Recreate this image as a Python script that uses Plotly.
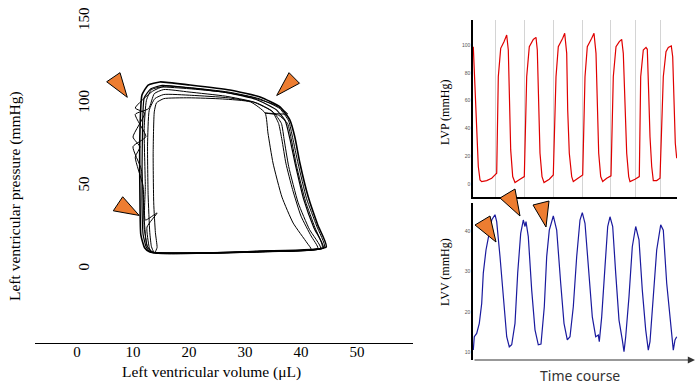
import plotly.graph_objects as go

# ---------------- Data: PV loops (volume in uL, pressure in mmHg) ----------------
loop_volumes = [
    [13.0, 22.0, 32.7, 44.5, 43.0, 41.3, 39.8, 38.9, 38.0, 36.3, 32.7, 27.3, 20.2, 14.8, 12.7, 11.6, 11.25, 11.25, 11.4, 12.1, 13.0],
    [13.3, 22.0, 33.0, 44.0, 42.3, 40.5, 39.0, 38.0, 37.2, 35.5, 32.0, 27.0, 20.0, 15.2, 13.2, 12.0, 11.7, 11.6, 11.8, 12.4, 13.3],
    [13.6, 23.0, 33.5, 43.5, 41.5, 39.5, 37.8, 37.0, 36.5, 35.0, 31.5, 26.5, 20.0, 15.5, 13.8, 12.8, 10.4, 12.3, 10.0, 11.5, 12.0, 12.5, 13.6],
    [14.0, 24.0, 34.0, 41.8, 41.1, 38.6, 36.6, 35.0, 34.1, 33.6, 31.0, 26.0, 20.0, 15.5, 14.2, 13.8, 13.6, 13.7, 14.0, 14.3, 14.0],
    [13.8, 23.5, 33.8, 43.0, 41.8, 40.0, 38.5, 37.3, 36.6, 36.0, 34.8, 32.0, 27.0, 20.5, 15.5, 13.9, 12.9, 12.6, 12.7, 13.0, 13.3, 13.8],
    [13.2, 22.5, 33.2, 43.8, 42.5, 40.8, 39.2, 38.3, 37.6, 36.0, 33.6, 37.6, 35.5, 31.0, 26.0, 20.0, 15.0, 13.3, 12.4, 12.0, 12.2, 12.2, 14.3, 12.5, 12.9, 13.2],
    [13.5, 23.0, 33.5, 44.2, 42.8, 41.0, 39.5, 38.5, 37.8, 36.2, 32.5, 27.0, 20.5, 15.6, 13.5, 10.4, 12.1, 10.0, 11.25, 10.4, 11.8, 12.0, 12.6, 13.5],
]
loop_pressures = [
    [10.3, 9.7, 10.9, 13.3, 26.6, 43.5, 64.1, 79.8, 90.1, 97.9, 104.0, 108.2, 111.2, 113.1, 111.2, 105.2, 84.0, 41.7, 20.6, 12.7, 10.3],
    [10.0, 9.6, 10.5, 12.8, 25.0, 42.0, 63.0, 79.0, 89.5, 96.5, 102.5, 106.5, 109.5, 111.0, 109.0, 103.5, 85.0, 42.0, 21.0, 13.0, 10.0],
    [10.2, 9.8, 10.6, 12.5, 24.0, 40.0, 62.0, 78.0, 88.0, 95.0, 101.0, 104.5, 107.0, 108.5, 106.0, 97.0, 93.5, 80.0, 74.0, 60.0, 30.0, 14.0, 10.2],
    [9.8, 9.6, 10.4, 12.0, 15.7, 27.8, 43.5, 64.1, 82.2, 94.3, 101.0, 102.8, 103.5, 103.0, 100.5, 95.0, 70.0, 40.0, 22.0, 13.0, 9.8],
    [10.1, 9.7, 10.6, 12.6, 20.0, 32.0, 48.0, 64.0, 78.0, 88.0, 95.5, 100.5, 103.5, 105.0, 105.5, 103.0, 96.0, 75.0, 45.0, 22.0, 13.5, 10.1],
    [10.4, 9.9, 10.8, 13.0, 25.0, 41.0, 62.5, 78.0, 88.0, 93.0, 94.3, 93.8, 99.0, 104.0, 107.0, 109.0, 110.0, 108.5, 102.0, 85.0, 50.0, 29.6, 33.9, 25.4, 13.0, 10.4],
    [10.0, 9.6, 10.7, 13.0, 26.0, 42.5, 63.5, 79.5, 89.5, 97.0, 103.0, 107.0, 109.5, 110.5, 107.5, 97.3, 94.3, 79.8, 73.8, 67.7, 50.0, 25.0, 13.5, 10.0],
]
loop_widths = [1.6, 1.2, 1.0, 1.0, 1.0, 1.0, 1.0]

pv_x_ticks = [0, 10, 20, 30, 40, 50]
pv_y_ticks = [0, 50, 100, 150]

# ---------------- Data: LVP time course ----------------
lvp_t = [0.3, 2.0, 3.7, 5.3, 7.0, 8.7, 13.7, 18.7, 22.0, 23.7, 25.3, 27.7, 31.0, 33.7, 35.3, 36.3, 37.7, 39.7, 42.0,
         47.0, 51.3, 53.7, 56.3, 60.3, 63.0, 64.3, 65.7, 67.0, 69.0, 71.0, 76.3, 80.3, 83.0, 85.3, 89.7, 91.7,
         93.7, 94.7, 96.3, 98.7, 100.3, 105.3, 109.7, 112.0, 114.3, 118.7, 121.0, 123.0, 124.3, 125.7, 127.7,
         129.7, 133.7, 138.0, 140.3, 143.0, 146.3, 148.7, 150.3, 152.0, 153.7, 155.7, 157.0, 162.0, 166.3,
         167.7, 170.3, 173.0, 174.3, 175.7, 177.0, 178.7, 180.3, 183.7, 187.0, 190.3, 193.0, 195.3, 198.3,
         199.7, 201.0, 202.3, 203.7]
lvp_mmHg = [98.8, 65.2, 29.3, 12.5, 2.9, 1.7, 2.4, 4.1, 6.5, 7.7, 77.2, 97.6, 102.4, 107.2, 96.4, 53.2, 24.5, 5.3, 1.0,
            3.4, 5.3, 77.2, 98.8, 104.0, 105.5, 96.4, 53.2, 22.1, 5.3, 1.0, 3.4, 6.5, 77.2, 98.8, 104.8, 108.4,
            94.0, 53.2, 22.1, 5.3, 1.7, 4.1, 6.5, 77.2, 98.8, 104.8, 108.4, 94.0, 53.2, 22.1, 5.3,
            1.7, 4.1, 5.8, 77.2, 98.8, 102.4, 104.1, 94.0, 53.2, 22.1, 5.3, 1.7, 3.4, 5.3,
            77.2, 96.4, 98.3, 96.9, 65.2, 34.0, 12.5, 2.4, 2.4, 4.1, 77.2, 95.2, 98.3, 99.3,
            91.6, 53.2, 29.3, 18.5]
beat_marks = [22.0, 51.3, 80.3, 109.7, 137.3, 162.7, 187.7]
lvp_ticks = [0, 20, 40, 60, 80, 100]

# ---------------- Data: LVV time course ----------------
lvv_t = [0.3, 1.3, 3.7, 6.3, 8.7, 10.3, 13.0, 15.3, 18.7, 22.0, 23.7, 27.0, 30.3, 33.7, 36.3, 38.7, 42.0, 44.7,
         47.7, 50.3, 52.0, 53.0, 55.3, 58.7, 62.0, 65.3, 68.0, 71.3, 73.7, 76.3, 80.3, 83.7, 87.7, 91.0, 94.3,
         97.0, 100.3, 103.7, 107.0, 109.3, 112.0, 116.0, 119.3, 122.7, 125.3, 126.3, 128.7, 132.0, 134.7,
         137.0, 139.7, 142.7, 146.0, 149.3, 151.0, 152.7, 156.0, 159.3, 162.7, 166.0, 169.3, 172.7, 175.3,
         177.0, 180.3, 183.7, 187.7, 190.3, 193.7, 197.7, 200.3, 202.0, 203.7]
lvv_uL = [10.6, 13.9, 14.7, 17.2, 22.1, 29.6, 35.3, 38.6, 42.7, 44.0, 42.3, 33.7, 23.0, 13.9, 11.4, 11.9, 17.2, 29.6,
          39.4, 42.7, 41.1, 42.3, 38.6, 25.4, 15.6, 11.9, 12.1, 21.3, 33.7, 40.2, 43.7, 40.2, 27.1, 17.2, 13.1,
          13.9, 21.3, 33.7, 42.7, 44.5, 41.9, 29.6, 18.8, 13.9, 14.3, 12.7, 18.8, 31.2, 41.1,
          43.5, 41.1, 29.6, 18.0, 13.1, 10.2, 13.9, 23.8, 36.1, 41.1, 37.8, 25.4, 15.6, 10.6,
          12.7, 23.0, 35.3, 41.5, 40.2, 27.1, 16.4, 10.6, 13.1, 13.9]
lvv_ticks = [10, 20, 30, 40]

# ---------------- Figure ----------------
W, H = 697, 391
fig = go.Figure()

for v, p, w in zip(loop_volumes, loop_pressures, loop_widths):
    fig.add_trace(go.Scatter(x=v, y=p, mode="lines", xaxis="x", yaxis="y",
                             line=dict(color="black", width=w, shape="spline", smoothing=0.5),
                             hoverinfo="skip", showlegend=False))

fig.add_trace(go.Scatter(x=lvp_t, y=lvp_mmHg, mode="lines", xaxis="x2", yaxis="y2",
                         line=dict(color="#e00000", width=1.2), showlegend=False))
fig.add_trace(go.Scatter(x=lvv_t, y=lvv_uL, mode="lines", xaxis="x3", yaxis="y3",
                         line=dict(color="#1a1a9e", width=1.2), showlegend=False))

serif = "Liberation Serif"

fig.update_layout(
    width=W, height=H, margin=dict(l=0, r=0, t=0, b=0),
    paper_bgcolor="white", plot_bgcolor="white", showlegend=False,
    xaxis=dict(domain=[35 / W, 413 / W], range=[-7.5, 60], anchor="y",
               tickvals=pv_x_ticks, ticks="", showgrid=False, zeroline=False,
               showline=True, linecolor="black", linewidth=1.2, ticklabelstandoff=-5,
               tickfont=dict(family=serif, size=15, color="black")),
    yaxis=dict(domain=[1 - 343 / H, 1 - 4 / H], range=[-44.7, 160.2], anchor="free", position=92 / W,
               tickvals=pv_y_ticks, tickangle=-90, ticks="", showgrid=False, zeroline=False,
               showline=False, tickfont=dict(family=serif, size=15, color="black")),
    xaxis2=dict(domain=[473 / W, 677 / W], range=[0, 204], anchor="y2",
                tickvals=beat_marks, showticklabels=False, ticks="",
                showgrid=True, gridcolor="#d4d4d4", gridwidth=1, zeroline=False,
                showline=True, linecolor="black", linewidth=1.5),
    yaxis2=dict(domain=[1 - 197 / H, 1 - 20 / H], range=[-9.4, 118], anchor="x2",
                tickvals=lvp_ticks, ticks="", showgrid=False, zeroline=False,
                showline=True, linecolor="black", linewidth=1.5,
                tickfont=dict(family="Liberation Sans", size=5, color="#555")),
    xaxis3=dict(domain=[473 / W, 695 / W], range=[0, 222], anchor="y3",
                showticklabels=False, ticks="", showgrid=False, zeroline=False, showline=False),
    yaxis3=dict(domain=[1 - 360 / H, 1 - 203 / H], range=[8.15, 46.9], anchor="x3",
                tickvals=lvv_ticks, ticks="", showgrid=False, zeroline=False,
                showline=True, linecolor="black", linewidth=1.5,
                tickfont=dict(family="Liberation Sans", size=5, color="#555")),
)

# time-course arrow on LVV axis
fig.add_annotation(x=222, y=8.15, ax=0, ay=8.15, xref="x3", yref="y3", axref="x3", ayref="y3",
                   text="", showarrow=True, arrowhead=2, arrowsize=1.2, arrowwidth=1.2, arrowcolor="#333")

# titles
def label(text, px, py, size, family=serif, angle=0, color="black"):
    fig.add_annotation(text=text, x=px / W, y=1 - py / H, xref="paper", yref="paper",
                       xanchor="center", yanchor="middle", textangle=angle, showarrow=False,
                       font=dict(family=family, size=size, color=color))

label("Left ventricular pressure (mmHg)", 15, 196, 15.5, angle=-90)
label("Left ventricular volume (μL)", 212, 372, 15.5)
label("LVP (mmHg)", 445, 113, 12, angle=-90)
label("LVV (mmHg)", 445, 272, 12, angle=-90)
label("Time course", 580, 375, 14, family="Noto Sans", color="#333")

# orange pointer triangles
orange = "#ed7d31"
pv_pointers = [
    [(5.30, 113.2), (7.68, 118.7), (8.98, 103.8)],
    [(35.66, 104.9), (37.86, 118.7), (39.73, 112.3)],
    [(6.48, 35.2), (8.16, 43.7), (11.1, 32.4)],
]
for tri in pv_pointers:
    path = "M {} {} L {} {} L {} {} Z".format(*[c for pt in tri for c in pt])
    fig.add_shape(type="path", path=path, xref="x", yref="y",
                  fillcolor=orange, line=dict(color="black", width=1), layer="above")

trace_pointers_px = [
    [(475, 225), (490, 216), (496, 242)],
    [(500, 198), (515, 189), (520, 216)],
    [(533, 205), (549, 201), (546, 227)],
]
for tri in trace_pointers_px:
    pts = [(x / W, 1 - y / H) for x, y in tri]
    path = "M {} {} L {} {} L {} {} Z".format(*[c for pt in pts for c in pt])
    fig.add_shape(type="path", path=path, xref="paper", yref="paper",
                  fillcolor=orange, line=dict(color="black", width=1), layer="above")

fig.write_html("out.html", config={"displayModeBar": False},
               post_script="document.body.style.margin='0';document.body.style.overflow='hidden';")
